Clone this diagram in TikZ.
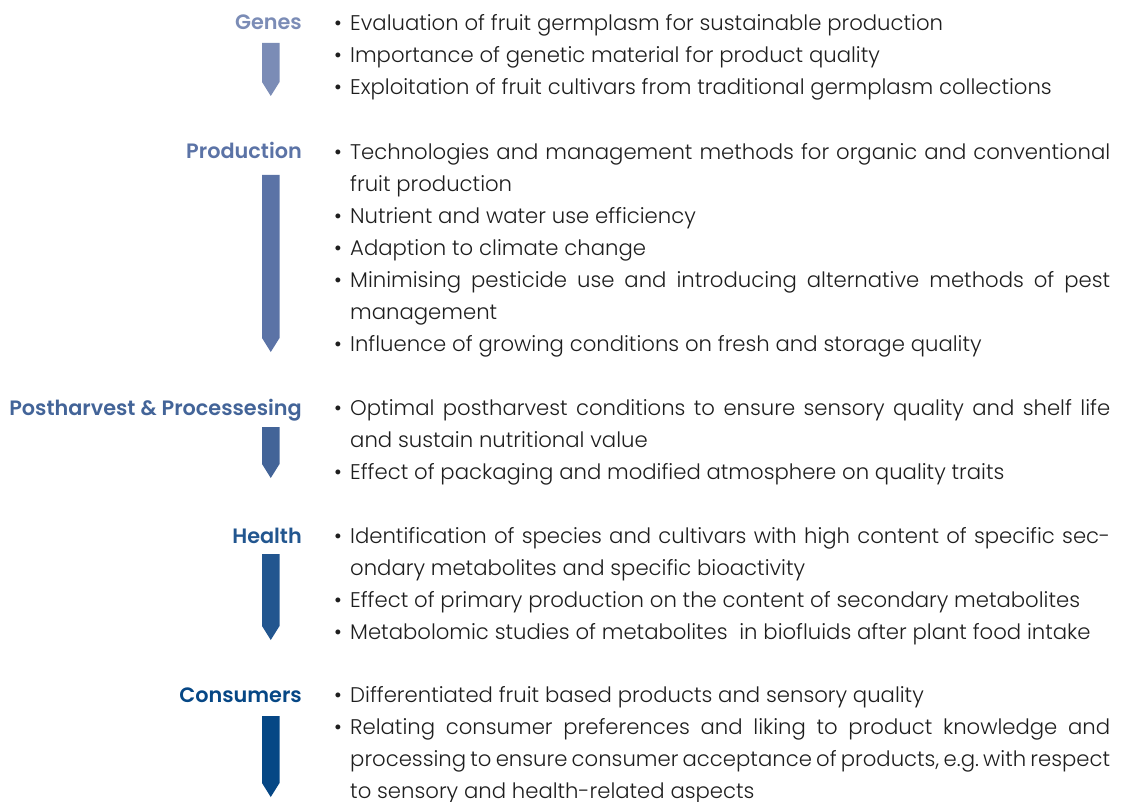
\documentclass[tikz,border=0pt]{standalone}
\usepackage{fontspec}
\setmainfont{Poppins}[UprightFont=* Light, BoldFont=* SemiBold]
\usetikzlibrary{positioning}

\definecolor{genescol}{HTML}{7B8CB6}
\definecolor{prodcol}{HTML}{5B73A6}
\definecolor{postcol}{HTML}{436498}
\definecolor{healthcol}{HTML}{22568F}
\definecolor{conscol}{HTML}{064785}
\definecolor{bodytext}{HTML}{1E1E1E}

\newcommand{\entry}{\par\hangindent=16pt\hangafter=1\noindent\strut\makebox[16pt][l]{\textbullet}}

\tikzset{
  stage/.style={anchor=base east, inner sep=0pt, font=\fontsize{20.8}{32}\selectfont\bfseries},
  items/.style={anchor=north west, inner sep=0pt, text=bodytext,
    font=\fontsize{21.2}{32}\selectfont,
    execute at begin node={\begin{minipage}[t]{776pt}\tolerance=10000\hyphenpenalty=10000\parindent=0pt},
    execute at end node={\par\end{minipage}}},
}

\begin{document}
\begin{tikzpicture}[x=1pt, y=-1pt]
  \useasboundingbox (0,0) rectangle (1123,802);

  % stage names
  \node[stage, text=genescol]  (genes)  at (302,30)  {Genes};
  \node[stage, text=prodcol]   (prod)   at (302,159) {Production};
  \node[stage, text=postcol]   (post)   at (302,415) {Postharvest \& Processesing};
  \node[stage, text=healthcol] (health) at (302,543) {Health};
  \node[stage, text=conscol]   (cons)   at (302,702) {Consumers};

  % down bars
  \fill[genescol]  (262,43)  -- (279.5,43)  -- (279.5,82)  -- (270.75,96)  -- (262,82)  -- cycle;
  \fill[prodcol]   (262,175) -- (279.5,175) -- (279.5,338) -- (270.75,352) -- (262,338) -- cycle;
  \fill[postcol]   (262,427) -- (279.5,427) -- (279.5,464) -- (270.75,478) -- (262,464) -- cycle;
  \fill[healthcol] (262,554) -- (279.5,554) -- (279.5,626) -- (270.75,640) -- (262,626) -- cycle;
  \fill[conscol]   (262,716) -- (279.5,716) -- (279.5,783) -- (270.75,797) -- (262,783) -- cycle;

  % topics per stage
  \node[items] (genesitems) at (334,7.6) {%
    \entry Evaluation of fruit germplasm for sustainable production
    \entry Importance of genetic material for product quality
    \entry Exploitation of fruit cultivars from traditional germplasm collections\par};
  \node[items] (proditems) at (334,136.6) {%
    \entry Technologies and management methods for organic and conventional\linebreak
      fruit production
    \entry Nutrient and water use efficiency
    \entry Adaption to climate change
    \entry Minimising pesticide use and introducing alternative methods of pest\linebreak
      management
    \entry Influence of growing conditions on fresh and storage quality\par};
  \node[items] (postitems) at (334,392.6) {%
    \entry Optimal postharvest conditions to ensure sensory quality and shelf life\linebreak
      and sustain nutritional value
    \entry Effect of packaging and modified atmosphere on quality traits\par};
  \node[items] (healthitems) at (334,520.6) {%
    \entry Identification of species and cultivars with high content of specific sec-\linebreak
      ondary metabolites and specific bioactivity
    \entry Effect of primary production on the content of secondary metabolites
    \entry Metabolomic studies of metabolites\ \ in biofluids after plant food intake\par};
  \node[items] (consitems) at (334,679.6) {%
    \entry Differentiated fruit based products and sensory quality
    \entry Relating consumer preferences and liking to product knowledge and\linebreak
      processing to ensure consumer acceptance of products, e.g.\ with respect\linebreak
      to sensory and health-related aspects\par};
\end{tikzpicture}
\end{document}
